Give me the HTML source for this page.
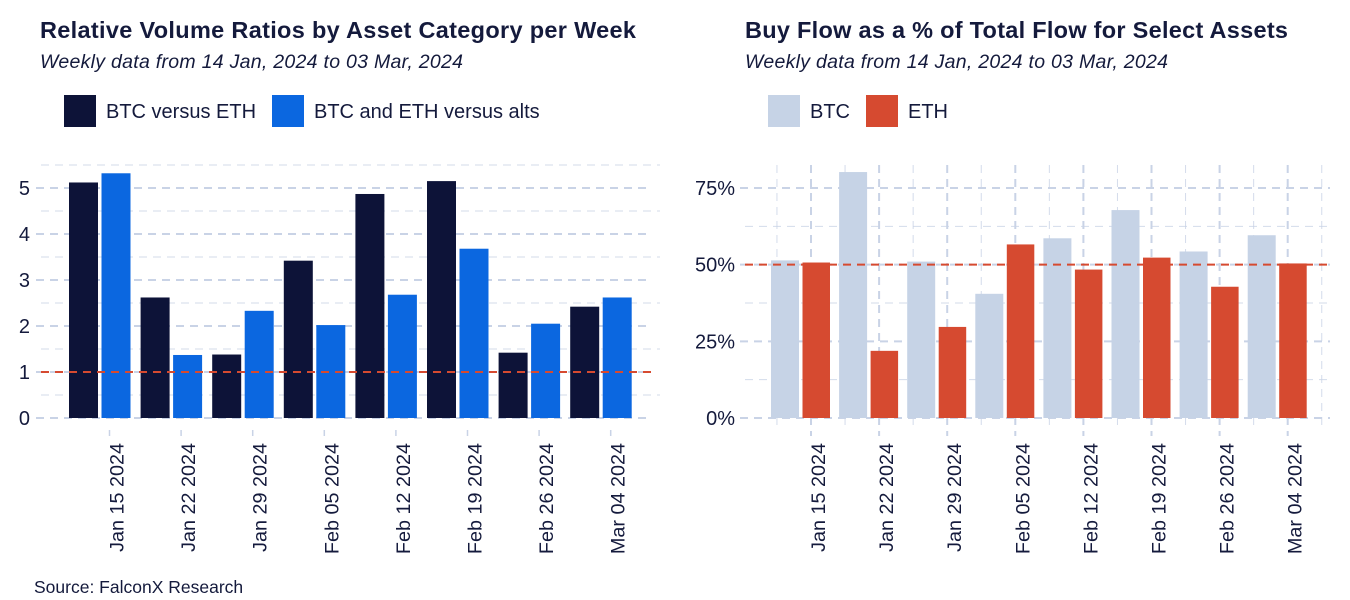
<!DOCTYPE html>
<html><head><meta charset="utf-8"><style>
html,body{margin:0;padding:0;background:#fff;}
svg{display:block;font-family:"Liberation Sans",sans-serif;}
</style></head><body>
<svg id="c" width="1350" height="600" viewBox="0 0 1350 600">
<g>
<text x="40" y="38" font-size="23.5" font-weight="bold" fill="#141a3c" textLength="596">Relative Volume Ratios by Asset Category per Week</text>
<text x="40" y="68" font-size="19.5" font-style="italic" fill="#141a3c" textLength="423">Weekly data from 14 Jan, 2024 to 03 Mar, 2024</text>
<g>
<rect x="64" y="95" width="32" height="32" fill="#0d1338"/>
<text x="106" y="118" font-size="20" fill="#141a3c">BTC versus ETH</text>
<rect x="272" y="95" width="32" height="32" fill="#0b67e0"/>
<text x="314" y="118" font-size="20" fill="#141a3c">BTC and ETH versus alts</text>
</g>
<g id="L"></g>
</g>
<g>
<text x="745" y="38" font-size="23.5" font-weight="bold" fill="#141a3c" textLength="543">Buy Flow as a % of Total Flow for Select Assets</text>
<text x="745" y="68" font-size="19.5" font-style="italic" fill="#141a3c" textLength="423">Weekly data from 14 Jan, 2024 to 03 Mar, 2024</text>
<g>
<rect x="768" y="95" width="32" height="32" fill="#c6d3e6"/>
<text x="810" y="118" font-size="20" fill="#141a3c">BTC</text>
<rect x="866" y="95" width="32" height="32" fill="#d64a30"/>
<text x="908" y="118" font-size="20" fill="#141a3c">ETH</text>
</g>
<g id="R"></g>
</g>
<text x="34" y="593" font-size="17.5" fill="#141a3c">Source: FalconX Research</text>
</svg>
<script>
const weeks = ["Jan 15 2024","Jan 22 2024","Jan 29 2024","Feb 05 2024","Feb 12 2024","Feb 19 2024","Feb 26 2024","Mar 04 2024"];
const btcVsEth = [5.12, 2.62, 1.38, 3.42, 4.87, 5.15, 1.42, 2.42];
const btcEthVsAlts = [5.32, 1.37, 2.33, 2.02, 2.68, 3.68, 2.05, 2.62];
const leftTicks = [0,1,2,3,4,5];
const btcBuy = [51.4, 80.2, 51.0, 40.5, 58.6, 67.8, 54.3, 59.6];
const ethBuy = [50.7, 21.9, 29.7, 56.6, 48.4, 52.3, 42.8, 50.4];
const rightTicks = [0,25,50,75];

const NS="http://www.w3.org/2000/svg";
function mk(p,t,a){const e=document.createElementNS(NS,t);for(const k in a)e.setAttribute(k,a[k]);p.appendChild(e);return e;}
const txt="#141a3c", grid="#c9d3e6";

// LEFT
(function(){
const g=document.getElementById('L');
const y=v=>418-v*46;
const gc=i=>100+i*71.6;
const tk=i=>gc(i)+9.5;
for(let v=0.5;v<=5.5;v+=1){const l=mk(g,'line',{x1:41,x2:660,y1:y(v),y2:y(v),stroke:grid,'stroke-width':1,'stroke-dasharray':'8,6',opacity:0.8});
}
leftTicks.forEach(v=>{const l=mk(g,'line',{x1:36,x2:652,y1:y(v),y2:y(v),stroke:grid,'stroke-width':2,'stroke-dasharray':'8,6'});

const t=mk(g,'text',{x:30,y:y(v)+7,'font-size':20,fill:txt,'text-anchor':'end'});t.textContent=v;
});
weeks.forEach((w,i)=>{
const a=mk(g,'rect',{x:gc(i)-31,y:y(btcVsEth[i]),width:29,height:btcVsEth[i]*46,fill:'#0d1338'});

const b=mk(g,'rect',{x:gc(i)+1.5,y:y(btcEthVsAlts[i]),width:29,height:btcEthVsAlts[i]*46,fill:'#0b67e0'});

const m=mk(g,'line',{x1:tk(i),x2:tk(i),y1:430,y2:436,stroke:grid,'stroke-width':1.5});

const t=mk(g,'text',{x:0,y:0,'font-size':19.8,fill:txt,'text-anchor':'end',transform:`translate(${tk(i)+14},443) rotate(-90)`});t.textContent=w;
});
const r=mk(g,'line',{x1:41,x2:652,y1:y(1),y2:y(1),stroke:'#d64a30','stroke-width':2,'stroke-dasharray':'8,6'});

})();

// RIGHT
(function(){
const g=document.getElementById('R');
const y=v=>418-v*230/75;
const gc=i=>800.5+i*68.1;
const tk=i=>gc(i)+10.5;
for(let i=-0.5;i<8;i+=0.5){const x=tk(0)+i*68.1;const major=Number.isInteger(i);
const l=mk(g,'line',{x1:x,x2:x,y1:165,y2:major?436:430,stroke:grid,'stroke-width':major?2:1,'stroke-dasharray':'8,6',opacity:major?1:0.8});
}
[12.5,37.5,62.5].forEach(v=>{const l=mk(g,'line',{x1:745,x2:1330,y1:y(v),y2:y(v),stroke:grid,'stroke-width':1,'stroke-dasharray':'8,6',opacity:0.8});
});
rightTicks.forEach(v=>{const l=mk(g,'line',{x1:740,x2:1330,y1:y(v),y2:y(v),stroke:grid,'stroke-width':2,'stroke-dasharray':'8,6'});

const t=mk(g,'text',{x:735,y:y(v)+7,'font-size':20,fill:txt,'text-anchor':'end'});t.textContent=v+'%';
});
weeks.forEach((w,i)=>{
const a=mk(g,'rect',{x:gc(i)-29.5,y:y(btcBuy[i]),width:28,height:btcBuy[i]*230/75,fill:'#c6d3e6'});

const b=mk(g,'rect',{x:gc(i)+2,y:y(ethBuy[i]),width:27.5,height:ethBuy[i]*230/75,fill:'#d64a30'});

const t=mk(g,'text',{x:0,y:0,'font-size':19.8,fill:txt,'text-anchor':'end',transform:`translate(${tk(i)+14},443) rotate(-90)`});t.textContent=w;
});
const r=mk(g,'line',{x1:745,x2:1330,y1:y(50),y2:y(50),stroke:'#d64a30','stroke-width':2,'stroke-dasharray':'8,6'});

})();
</script>
</body></html>
